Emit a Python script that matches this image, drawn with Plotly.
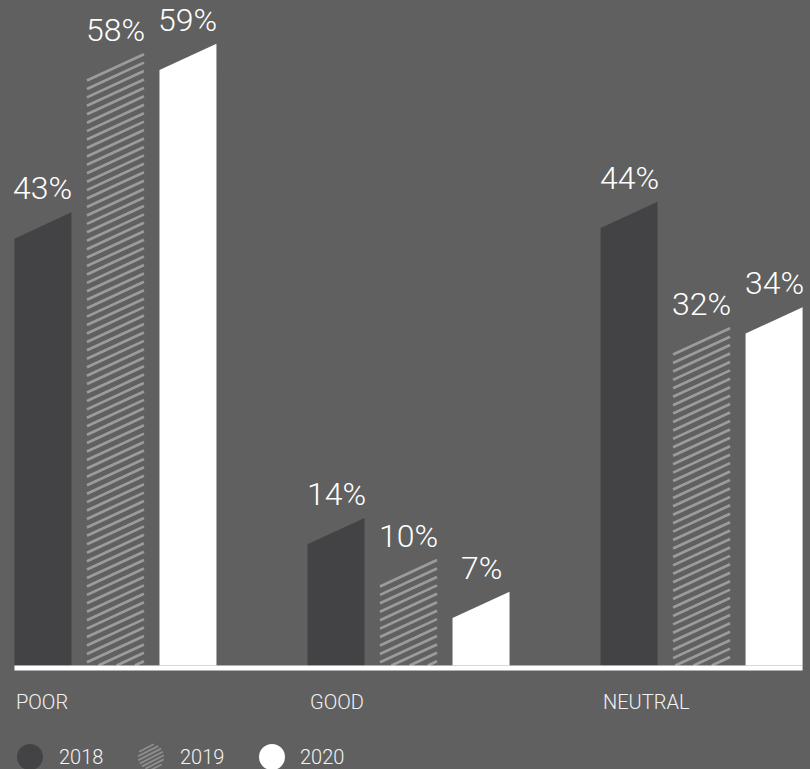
import math
import plotly.graph_objects as go

# ---- data ----
categories = ["POOR", "GOOD", "NEUTRAL"]
years = ["2018", "2019", "2020"]
values_2018 = [43, 14, 44]
values_2019 = [58, 10, 32]
values_2020 = [59, 7, 34]

# ---- style ----
BG = "#606060"
DARK = "#434345"
HATCH = "#9c9c9c"
WHITE = "#ffffff"
FONT = "Roboto Light, Roboto, sans-serif"

BAR_W = 0.1945        # bar width (x units, one unit per category)
BAR_PITCH = 0.2474    # distance between neighbouring bars in a group
SLANT = 2.5           # drop of the left top corner (y units)
HATCH_GAP = 0.8       # vertical gap between hatch lines (y units)
X_RANGE = [-0.394, 2.370]
Y_RANGE = [-9.82, 63.14]
W, H = 810, 769

fig = go.Figure()


def bar_edges(i, j):
    c = i + (j - 1) * BAR_PITCH
    return c - BAR_W / 2, c + BAR_W / 2


def solid_bar(i, j, v, color):
    xl, xr = bar_edges(i, j)
    fig.add_trace(go.Scatter(
        x=[xl, xr, xr, xl, xl], y=[0, 0, v, v - SLANT, 0],
        mode="lines", fill="toself", fillcolor=color,
        line=dict(width=0, color=color), hoverinfo="skip", showlegend=False))


def hatched_bar(i, j, v):
    xl, xr = bar_edges(i, j)
    xs, ys = [], []
    k = 0
    while v - k * HATCH_GAP > 0:
        yr = v - k * HATCH_GAP
        yl = yr - SLANT
        if yl >= 0:
            x0, y0 = xl, yl
        else:
            x0, y0 = xr - yr * (xr - xl) / SLANT, 0
        xs += [x0, xr, None]
        ys += [y0, yr, None]
        k += 1
    fig.add_trace(go.Scatter(
        x=xs, y=ys, mode="lines", line=dict(width=2.7, color=HATCH),
        hoverinfo="skip", showlegend=False))


series = [values_2018, values_2019, values_2020]
for j, vals in enumerate(series):
    for i, v in enumerate(vals):
        if j == 0:
            solid_bar(i, j, v, DARK)
        elif j == 1:
            hatched_bar(i, j, v)
        else:
            solid_bar(i, j, v, WHITE)
        xl, xr = bar_edges(i, j)
        fig.add_annotation(
            x=(xl + xr) / 2, y=v, xref="x", yref="y", text=f"{v}%",
            showarrow=False, yanchor="bottom", xanchor="center", yshift=3,
            font=dict(family=FONT, size=32, color=WHITE, weight=300))

# baseline
first_l, _ = bar_edges(0, 0)
_, last_r = bar_edges(len(categories) - 1, 2)
fig.add_shape(type="rect", xref="x", yref="y", x0=first_l, x1=last_r,
              y0=0, y1=-5 * (Y_RANGE[1] - Y_RANGE[0]) / H,
              fillcolor=WHITE, line=dict(width=0), layer="above")

# category labels
for i, name in enumerate(categories):
    xl, _ = bar_edges(i, 0)
    fig.add_annotation(
        x=xl, y=-3.46, xref="x", yref="y", text=name, showarrow=False,
        xanchor="left", yanchor="middle",
        font=dict(family=FONT, size=20, color="#f2f2f2", weight=300))

# legend swatches
legend_cx = [30, 151, 272]
legend_tx = [57, 178, 298]
legend_cy = 757
R = 13
for j, name in enumerate(years):
    ax = legend_cx[j] / W
    ay = 1 - legend_cy / H
    if j == 1:
        th = math.radians(27)
        d = (math.cos(th), math.sin(th))
        n = (-math.sin(th), math.cos(th))
        t = -R + 1.5
        while t < R:
            h = math.sqrt(max(R * R - t * t, 0))
            px, py = t * n[0], t * n[1]
            fig.add_shape(type="line", xref="paper", yref="paper",
                          xsizemode="pixel", ysizemode="pixel",
                          xanchor=ax, yanchor=ay,
                          x0=px - h * d[0], y0=py - h * d[1],
                          x1=px + h * d[0], y1=py + h * d[1],
                          line=dict(color="#8e8e8e", width=1.8))
            t += 3.6
    else:
        fig.add_shape(type="circle", xref="paper", yref="paper",
                      xsizemode="pixel", ysizemode="pixel",
                      xanchor=ax, yanchor=ay, x0=-R, x1=R, y0=-R, y1=R,
                      fillcolor=DARK if j == 0 else WHITE, line=dict(width=0))
    fig.add_annotation(
        x=legend_tx[j] / W, y=ay, xref="paper", yref="paper", text=name,
        showarrow=False, xanchor="left", yanchor="middle",
        font=dict(family=FONT, size=20, color="#f2f2f2", weight=300))

fig.update_layout(
    width=W, height=H, margin=dict(l=0, r=0, t=0, b=0),
    paper_bgcolor=BG, plot_bgcolor=BG, showlegend=False,
    xaxis=dict(range=X_RANGE, visible=False, fixedrange=True),
    yaxis=dict(range=Y_RANGE, visible=False, fixedrange=True),
)

fig.write_html("out.html")
